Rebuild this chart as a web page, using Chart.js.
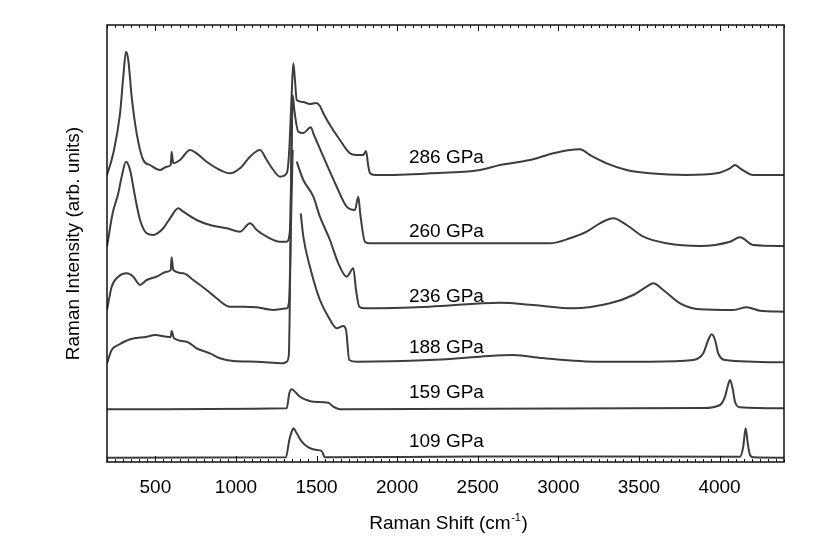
<!DOCTYPE html>
<html><head><meta charset="utf-8">
<script src="https://cdn.jsdelivr.net/npm/chart.js@4.4.1/dist/chart.umd.min.js"></script>
<style>html,body{margin:0;padding:0;background:#fff;}canvas{display:block;}</style>
</head><body>
<canvas id="c" width="830" height="554"></canvas>
<script>
// ---- data (Raman shift in cm-1, intensity in arb. units) ----
const pressures = ['286 GPa','260 GPa','236 GPa','188 GPa','159 GPa','109 GPa'];

const shift286 = [200,239,281,301,318,332,353,384,425,467,529,570,595,601,611,653,715,756,818,901,963,1025,1087,1149,1191,1232,1273,1315,1330,1345,1356,1366,1377,1416,1459,1497,1521,1542,1583,1645,1707,1745,1790,1807,1820,1832,1863,1894,2204,2514,2638,2824,2969,3072,3134,3196,3300,3424,3568,3796,3982,4065,4096,4127,4210,4400];
const int286   = [287,308.7,348.7,385.3,410.3,402,365.3,328.7,302,297,292,295.3,297,310.3,298.7,302,312,308.7,300.3,292,288.7,293.7,305.3,312,302,292,285.3,288.7,310,365,398.7,382,362,360,358,359,356,348.7,337,322,308.7,307,307,311,297,288.7,287,287,288.7,292,297,302,308.7,312,312.7,307,298.7,292,288.7,287,288.7,293.7,297,293.7,287,287];

const shift260 = [200,235,270,291,318,343,374,405,446,487,549,591,642,673,756,839,943,1025,1087,1129,1191,1273,1315,1335,1345,1352,1362,1387,1418,1464,1484,1542,1625,1687,1738,1759,1772,1800,1832,2200,2638,2948,3072,3176,3258,3341,3424,3527,3672,3879,4065,4127,4210,4400];
const int260   = [215.3,248.7,268.7,285.3,300.3,292,265.3,242,228.7,227,233.7,243.7,253.7,250.3,242,237,233.7,230.3,238.7,232,225.3,220.3,220.3,232,312,367,352,330.3,329,334.7,327,305.3,275.3,255.3,252,265.3,247,220.3,218.7,218.7,218.7,218.7,223.7,230.3,238.7,243.7,237,225.3,218.7,216,220.3,224.7,217,216];

const shift236 = [200,229,270,322,363,405,446,508,570,595,601,611,673,735,818,880,963,1046,1129,1232,1315,1330,1342,1352,1365,1377,1418,1480,1521,1583,1635,1687,1728,1745,1765,1800,2200,2638,2845,3093,3320,3465,3548,3589,3651,3755,3879,4085,4168,4251,4400];
const int236   = [152,175.3,185.3,188.7,185.3,177,182,185.3,190.3,192,204.7,192,188.7,182,172,163.7,155.3,155.3,154.7,152,153.7,162,242,312,null,300.3,282,265.3,245.3,222,198.7,185.3,193.7,172,155.3,153.7,155.3,159.3,157,153.7,158.7,167,175.3,178.7,172,158.7,152.7,152,154.7,151.3,150.3];

const shift188 = [200,229,270,343,446,498,570,595,601,616,694,756,839,901,983,1129,1294,1315,1328,1338,1346,1370,1402,1418,1459,1521,1573,1625,1666,1683,1703,1749,2200,2514,2721,2900,3258,3568,3837,3899,3930,3951,3972,3992,4034,4400];
const int188   = [98.7,112,117,122.7,125.3,127,125.3,125,131,123.7,120.3,113.7,108.7,103.7,101,100.3,98.7,100.3,107,212,342,null,248.7,225.3,195.3,162,145.3,133.7,136,132,102,100.3,102,105.3,107,104,100.3,100.3,102,108.7,122,127.7,122,108.7,102,99.7];

const shift159 = [200,1315,1331,1346,1366,1397,1439,1480,1573,1604,1645,3900,4003,4034,4050,4065,4081,4096,4127,4400];
const int159   = [52.7,53.7,68.7,72.7,70.3,65.3,62,60.3,59.3,55.3,52.7,54,57,65.3,75.3,82,73.7,60.3,54.7,53.7];

const shift109 = [200,1310,1331,1346,1356,1377,1408,1449,1501,1532,1552,2500,4127,4147,4162,4175,4189,4210,4400];
const int109   = [4.3,4.7,22,30.3,33.7,28.7,20.3,14.7,12,11,4.7,5.5,5.3,15.3,33.7,18.7,7,4.7,4.3];

const xRange = [200, 4400];
const yRange = [0, 437];
const minorStep = 50;
const majorStep = 500;

// ---- presentation ----
const FONT = "'Liberation Sans', Arial, Helvetica, sans-serif";
const LINE = '#3d3d3d';
const labelPlacement = { shift: 2073, baseline: [298.7, 225.3, 160.3, 108.7, 64.3, 15.3] };

const seriesShift = [shift286, shift260, shift236, shift188, shift159, shift109];
const seriesInt = [int286, int260, int236, int188, int159, int109];

const datasets = pressures.map((p, k) => ({
  label: p,
  data: seriesShift[k].map((x, i) => ({ x: x, y: seriesInt[k][i] })),
  borderColor: LINE,
  borderWidth: 2,
  pointRadius: 0,
  fill: false,
  spanGaps: false,
  cubicInterpolationMode: 'monotone'
}));

const framePlugin = {
  id: 'frameTicks',
  afterDatasetsDraw(chart) {
    const { ctx, chartArea: a, scales: { x, y } } = chart;
    ctx.save();
    // inward tick marks on top and bottom, from the x scale ticks
    ctx.strokeStyle = '#111';
    ctx.lineWidth = 1;
    x.ticks.forEach(t => {
      const v = Math.round(t.value);
      const px = Math.round(x.getPixelForValue(v)) + 0.5;
      const len = (v % majorStep === 0) ? 6 : 3;
      ctx.beginPath();
      ctx.moveTo(px, a.bottom); ctx.lineTo(px, a.bottom - len);
      ctx.moveTo(px, a.top); ctx.lineTo(px, a.top + len);
      ctx.stroke();
    });
    // frame
    ctx.lineWidth = 1.5;
    ctx.strokeRect(a.left, a.top, a.right - a.left, a.bottom - a.top);
    // series labels
    ctx.fillStyle = '#000';
    ctx.font = '19px ' + FONT;
    ctx.textAlign = 'left';
    ctx.textBaseline = 'alphabetic';
    pressures.forEach((p, k) => {
      ctx.fillText(p, x.getPixelForValue(labelPlacement.shift), y.getPixelForValue(labelPlacement.baseline[k]));
    });
    // x axis title with superscript
    const main = 'Raman Shift (cm', sup = '-1', close = ')';
    ctx.font = '19px ' + FONT;
    const w1 = ctx.measureText(main).width, w3 = ctx.measureText(close).width;
    ctx.font = '11px ' + FONT;
    const w2 = ctx.measureText(sup).width;
    const total = w1 + w2 + 1 + w3;
    let sx = (a.left + a.right) / 2 + 3 - total / 2;
    const base = a.bottom + 67;
    ctx.font = '19px ' + FONT;
    ctx.fillText(main, sx, base);
    ctx.font = '11px ' + FONT;
    ctx.fillText(sup, sx + w1 + 0.5, base - 8);
    ctx.font = '19px ' + FONT;
    ctx.fillText(close, sx + w1 + w2 + 1, base);
    ctx.restore();
  }
};

new Chart(document.getElementById('c'), {
  type: 'line',
  data: { datasets },
  options: {
    responsive: false,
    animation: false,
    devicePixelRatio: 1,
    layout: { padding: { top: 25, right: 46, left: 0, bottom: 0 } },
    plugins: { legend: { display: false }, tooltip: { enabled: false } },
    scales: {
      x: {
        type: 'linear', min: xRange[0], max: xRange[1],
        afterFit(s) { s.height = 92; },
        grid: { display: false, drawTicks: false },
        border: { display: false },
        ticks: {
          stepSize: minorStep, autoSkip: false, maxRotation: 0, minRotation: 0,
          padding: 14, color: '#000', font: { family: FONT, size: 19 },
          callback: (v) => { const r = Math.round(v); return (r % majorStep === 0) ? String(r) : ''; }
        }
      },
      y: {
        type: 'linear', min: yRange[0], max: yRange[1],
        afterFit(s) { s.width = 107; },
        grid: { display: false, drawTicks: false },
        border: { display: false },
        ticks: { display: false },
        title: { display: true, text: 'Raman Intensity (arb. units)', color: '#000',
                 font: { family: FONT, size: 19 }, padding: { top: 62, bottom: 0 } }
      }
    }
  },
  plugins: [framePlugin]
});
</script>
</body></html>
